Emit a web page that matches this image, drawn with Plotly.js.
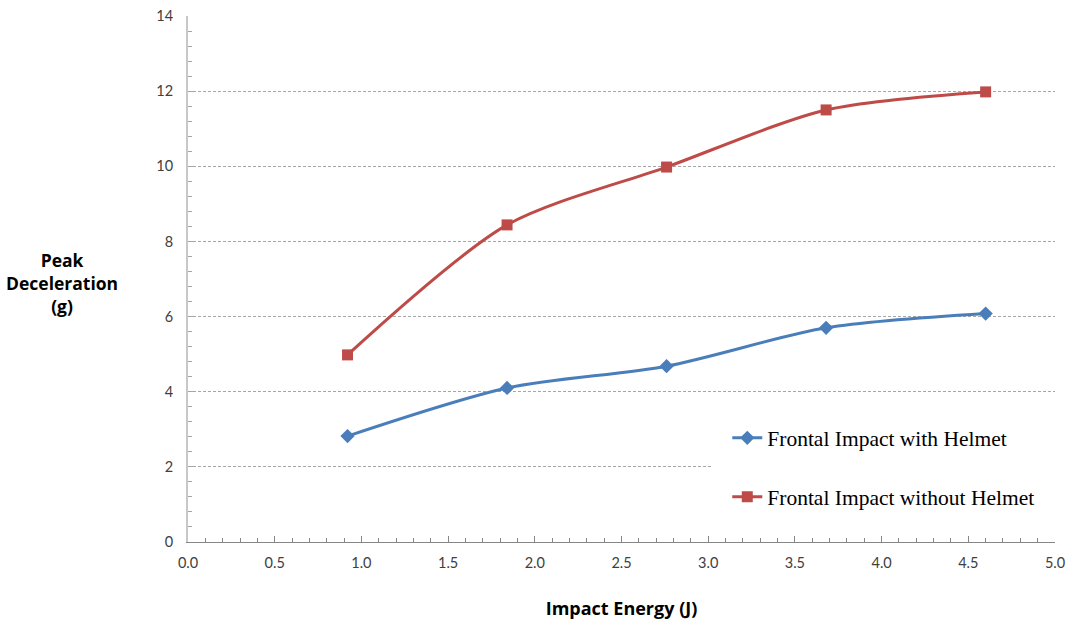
<!DOCTYPE html>
<html>
<head>
<meta charset="utf-8">
<script src="https://cdn.plot.ly/plotly-3.0.1.min.js"></script>
<style>html,body{margin:0;padding:0;background:#fff;}#chart{width:1069px;height:625px;}</style>
</head>
<body>
<div id="chart"></div>
<script>
var energy = [0.92, 1.84, 2.76, 3.68, 4.6];
var withHelmet = [2.82, 4.1, 4.68, 5.7, 6.08];
var withoutHelmet = [4.98, 8.44, 9.98, 11.5, 11.98];
var seriesNames = ['Frontal Impact with Helmet', 'Frontal Impact without Helmet'];

var traces = [
  {x: energy, y: withHelmet, name: seriesNames[0], type: 'scatter', mode: 'lines+markers',
   legendgroup: 'a',
   line: {color: '#4a7ebb', width: 3, shape: 'spline', smoothing: 0.8},
   marker: {symbol: 'diamond', size: 11, color: '#4a7ebb'}},
  {x: energy, y: withoutHelmet, name: seriesNames[1], type: 'scatter', mode: 'lines+markers',
   legendgroup: 'b',
   line: {color: '#be4b48', width: 3, shape: 'spline', smoothing: 0.8},
   marker: {symbol: 'square', size: 11, color: '#be4b48'}}
];

var layout = {
  width: 1069, height: 625,
  margin: {l: 188, r: 14, t: 16, b: 83},
  paper_bgcolor: '#fff', plot_bgcolor: '#fff',
  showlegend: true,
  legend: {x: 0.622, y: 0.237, xanchor: 'left', yanchor: 'top', bgcolor: 'rgba(0,0,0,0)',
    font: {family: 'Liberation Serif', size: 21.5, color: '#000'},
    tracegroupgap: 28, itemwidth: 30},
  shapes: [{type: 'rect', xref: 'paper', yref: 'paper', x0: 0.604, x1: 1.005, y0: 0.04, y1: 0.235,
    fillcolor: '#fff', line: {width: 0}, layer: 'above'}],
  xaxis: {range: [0, 5], dtick: 0.5, tickformat: '.1f', showgrid: false, zeroline: false,
    showline: true, linecolor: '#868686', linewidth: 1,
    ticks: 'inside', ticklen: 6, tickcolor: '#868686',
    minor: {dtick: 0.1, ticks: 'inside', ticklen: 4, tickcolor: '#868686'},
    ticklabelstandoff: 8,
    tickfont: {family: 'Lato', size: 14.5, color: '#404040'},
    title: {text: '<b>Impact Energy (J)</b>', font: {family: 'Open Sans', size: 18, color: '#000'}, standoff: 31}},
  yaxis: {range: [0, 14], dtick: 2, showgrid: true, gridcolor: '#a6a6a6', griddash: '3px,2px', gridwidth: 1,
    zeroline: false, showline: true, linecolor: '#c8c8c8', linewidth: 2,
    ticks: 'inside', ticklen: 5, tickcolor: '#a6a6a6',
    minor: {dtick: 0.4, ticks: 'inside', ticklen: 4, tickcolor: '#a6a6a6', showgrid: false},
    ticklabelstandoff: 10,
    tickfont: {family: 'Lato', size: 14.5, color: '#404040'}},
  annotations: [{text: '<b>Peak<br>Deceleration<br>(g)</b>', xref: 'paper', yref: 'paper',
    x: -0.145, y: 0.492, xanchor: 'center', yanchor: 'middle', showarrow: false, align: 'center',
    font: {family: 'Open Sans', size: 17.5, color: '#000'}}]
};

Plotly.newPlot('chart', traces, layout, {displayModeBar: false, staticPlot: true});
</script>
</body>
</html>
